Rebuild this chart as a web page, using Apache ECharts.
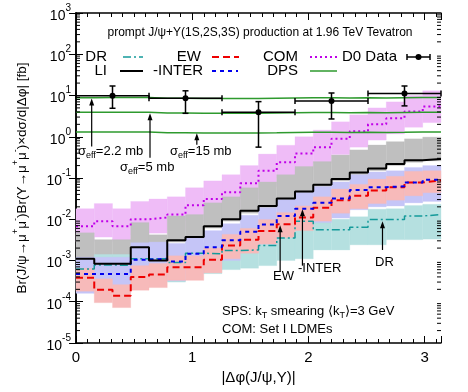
<!DOCTYPE html>
<html><head><meta charset="utf-8">
<script src="https://cdn.jsdelivr.net/npm/echarts@6/dist/echarts.min.js"></script>
<style>html,body{margin:0;padding:0;background:#fff}#c{width:468px;height:392px}</style>
</head><body><div id="c"></div>
<script>
const FONT = '"Liberation Sans", Arial, Helvetica, sans-serif';

// bin edges of |Δφ| (20 bins from 0 to π)
const binEdges = [0, 0.1571, 0.3142, 0.4712, 0.6283, 0.7854, 0.9425, 1.0996, 1.2566, 1.4137,
  1.5708, 1.7279, 1.8850, 2.0420, 2.1991, 2.3562, 2.5133, 2.6704, 2.8274, 2.9845, 3.1416];

// central values per bin [fb]
const LI    = [1.1e-3, 8.3e-4, 8.3e-4, 2.1e-3, 1.0e-3, 3.1e-3, 3.7e-3, 6.8e-3, 1.0e-2, 1.6e-2,
  2.1e-2, 3.2e-2, 4.7e-2, 6.9e-2, 9.4e-2, 0.135, 0.17, 0.22, 0.27, 0.29];
const COM   = [6.8e-3, 8.9e-3, 6.8e-3, 1.0e-2, 1.1e-2, 1.3e-2, 2.2e-2, 3.1e-2, 4.5e-2, 7.5e-2,
  0.15, 0.24, 0.39, 0.56, 0.9, 1.35, 2.0, 2.8, 4.1, 5.4];
const INTER = [4.7e-4, 4.7e-4, 4.7e-4, 1.05e-3, 1.1e-3, 9.5e-4, 1.45e-3, 2.1e-3, 3.1e-3, 5.0e-3,
  7.5e-3, 1.2e-2, 1.8e-2, 2.5e-2, 3.2e-2, 5.1e-2, 6.0e-2, 6.3e-2, 7.8e-2, 9.1e-2];
const EW    = [3.8e-4, 1.95e-4, 1.4e-4, 4.0e-4, 4.6e-4, 6.9e-4, 6.9e-4, 1.05e-3, 2.3e-3, 3.2e-3,
  5.2e-3, 7.6e-3, 1.1e-2, 1.9e-2, 2.9e-2, 3.7e-2, 5.0e-2, 6.0e-2, 7.8e-2, 8.7e-2];
const DR    = [6.2e-4, 7.8e-4, 7.6e-4, 1.1e-3, 1.1e-3, 8.9e-4, 1.5e-3, 1.45e-3, 1.75e-3, 1.8e-3,
  2.3e-3, 3.5e-3, 8.9e-3, 5.6e-3, 5.6e-3, 6.4e-3, 9.8e-3, 9.9e-3, 1.2e-2, 1.3e-2];
const DPS_2p2 = [8.8, 8.9, 8.9, 8.9, 8.6, 8.6, 8.5, 8.4, 8.5, 8.5, 8.6, 8.7, 8.8, 8.8, 8.7, 8.8, 8.7, 8.8, 8.9, 8.9];
const DPS_5   = [3.9, 3.9, 3.9, 3.9, 3.75, 3.75, 3.7, 3.7, 3.7, 3.7, 3.75, 3.8, 3.85, 3.85, 3.8, 3.85, 3.8, 3.85, 3.9, 3.9];
const DPS_15  = [1.3, 1.3, 1.3, 1.3, 1.25, 1.25, 1.24, 1.23, 1.24, 1.24, 1.25, 1.27, 1.28, 1.28, 1.27, 1.28, 1.27, 1.28, 1.3, 1.3];

// uncertainty bands per bin (low, high)
const COM_lo = [2.8e-3, 3.7e-3, 2.8e-3, 4.2e-3, 4.6e-3, 5.4e-3, 9.2e-3, 1.3e-2, 1.9e-2, 3.1e-2,
  6.2e-2, 0.1, 0.16, 0.23, 0.37, 0.56, 0.83, 1.17, 1.7, 2.2];
const COM_hi = [0.018, 0.024, 0.018, 0.027, 0.031, 0.035, 0.058, 0.085, 0.12, 0.2,
  0.38, 0.62, 1.0, 1.45, 2.3, 3.4, 5.0, 7.0, 10, 13];
const LI_lo = [1.0e-3, 7.5e-4, 7.5e-4, 1.9e-3, 9e-4, 2.8e-3, 3.3e-3, 6.1e-3, 9e-3, 1.4e-2,
  1.9e-2, 2.9e-2, 4.2e-2, 6.2e-2, 8.5e-2, 0.12, 0.15, 0.2, 0.24, 0.26];
const LI_hi = [4.7e-3, 3.2e-3, 3.2e-3, 8.3e-3, 4.2e-3, 1.2e-2, 1.3e-2, 2.5e-2, 3.5e-2, 5.8e-2,
  8.0e-2, 0.12, 0.19, 0.25, 0.36, 0.48, 0.63, 0.76, 0.89, 0.98];
const INTER_lo = [1.6e-4, 1.6e-4, 1.6e-4, 3.5e-4, 3.7e-4, 3.2e-4, 4.8e-4, 7e-4, 1.0e-3, 1.7e-3,
  2.5e-3, 4.0e-3, 6.0e-3, 8.3e-3, 1.07e-2, 1.7e-2, 2.0e-2, 2.1e-2, 2.5e-2, 2.7e-2];
const INTER_hi = [1.2e-3, 1.2e-3, 1.2e-3, 2.7e-3, 2.8e-3, 2.6e-3, 3.7e-3, 5.3e-3, 7.8e-3, 1.25e-2,
  1.9e-2, 3.0e-2, 4.5e-2, 6.2e-2, 8.0e-2, 0.12, 0.14, 0.15, 0.18, 0.2];
const EW_lo = [1.8e-4, 9.5e-5, 7.2e-5, 1.9e-4, 2.2e-4, 3.3e-4, 3.3e-4, 5.0e-4, 1.1e-3, 1.5e-3,
  2.5e-3, 3.6e-3, 5.3e-3, 9.0e-3, 1.4e-2, 1.8e-2, 2.4e-2, 2.9e-2, 3.7e-2, 4.4e-2];
const EW_hi = [6.5e-4, 3.6e-4, 2.6e-4, 7.5e-4, 8.5e-4, 1.3e-3, 1.3e-3, 2.0e-3, 4.3e-3, 6.0e-3,
  9.8e-3, 1.45e-2, 2.1e-2, 3.5e-2, 5.4e-2, 7.0e-2, 9.4e-2, 0.11, 0.145, 0.15];
const DR_lo = [2.0e-4, 2.6e-4, 2.5e-4, 3.7e-4, 3.7e-4, 3.0e-4, 5.0e-4, 4.8e-4, 6e-4, 6.5e-4,
  7.5e-4, 1.0e-3, 1.1e-3, 1.8e-3, 1.8e-3, 2.4e-3, 2.4e-3, 3.2e-3, 3.2e-3, 3.3e-3];
const DR_hi = [1.1e-3, 1.4e-3, 1.4e-3, 2.0e-3, 2.0e-3, 1.6e-3, 2.7e-3, 2.6e-3, 3.2e-3, 3.3e-3,
  4.2e-3, 6.3e-3, 1.4e-2, 1.0e-2, 1.0e-2, 1.15e-2, 1.75e-2, 1.8e-2, 2.15e-2, 2.3e-2];

// D0 data
const d0X     = [0.3142, 0.9425, 1.5708, 2.1991, 2.8274];
const d0HalfW = [0.3142, 0.3142, 0.3142, 0.3142, 0.3142];
const d0Y     = [9.8, 8.6, 3.9, 7.4, 11.2];
const d0Lo    = [4.9, 3.7, 0.56, 2.7, 5.6];
const d0Hi    = [17, 13, 7.1, 11.5, 17];

// annotation arrows: x, tail y, head y
const arrowX    = [0.135, 0.637, 1.04, 1.757, 1.949, 2.638];
const arrowFrom = [0.58, 0.31, 0.64, 5.5e-4, 7.5e-4, 1.8e-3];
const arrowTo   = [8.4, 3.7, 1.22, 7.2e-3, 1.75e-2, 9.0e-3];

const stepData = v => { const d = v.map((y, i) => [binEdges[i], y]); d.push([binEdges[v.length], v[v.length - 1]]); return d; };
const bandData = (lo, hi) => lo.map((l, i) => [binEdges[i], binEdges[i + 1], l, hi[i]]);

function bandSeries(lo, hi, color, z) {
  return {
    type: 'custom', z: z, silent: true, data: bandData(lo, hi),
    encode: { x: [0, 1], y: [2, 3] },
    renderItem: (p, api) => {
      const a = api.coord([api.value(0), api.value(3)]);
      const b = api.coord([api.value(1), api.value(2)]);
      return { type: 'rect', shape: { x: a[0], y: a[1], width: b[0] - a[0], height: b[1] - a[1] },
        style: { fill: color, stroke: color, lineWidth: 0.3 } };
    }
  };
}
function lineSeries(vals, color, width, type, z) {
  return { type: 'line', step: 'end', data: stepData(vals), symbol: 'none', z: z || 5, silent: true,
    lineStyle: { color: color, width: width, type: type || 'solid' } };
}

const minorY = [];
for (let e = -5; e < 3; e++) for (let k = 2; k <= 9; k++) minorY.push([0, k * Math.pow(10, e)]);

const C = { DR: '#159a9a', EW: '#ee0000', COM: '#c000e8', INTER: '#0000ee', DPS: '#2e9a2e', LI: '#000000' };

const chart = echarts.init(document.getElementById('c'), null, { renderer: 'canvas' });

const axisCommonX = {
  type: 'value', min: 0, max: Math.PI, interval: 1,
  axisLine: { lineStyle: { color: '#000', width: 1.5 } },
  axisTick: { inside: true, length: 7, lineStyle: { color: '#000', width: 1 } },
  minorTick: { show: true, splitNumber: 10, length: 4, lineStyle: { color: '#000', width: 1 } },
  splitLine: { show: false }
};
const axisCommonY = {
  type: 'log', logBase: 10, min: 1e-5, max: 1e3, splitNumber: 8,
  axisLine: { show: true, lineStyle: { color: '#000', width: 1.5 } },
  axisTick: { show: true, inside: true, length: 7, lineStyle: { color: '#000', width: 1 } },
  splitLine: { show: false }
};

const option = {
  animation: false,
  backgroundColor: '#fff',
  grid: { left: 76, top: 13, right: 27, bottom: 49 },
  xAxis: [
    Object.assign({}, axisCommonX, {
      position: 'bottom',
      axisLabel: { fontFamily: FONT, fontSize: 15, color: '#000', margin: 7,
        formatter: v => (Math.abs(v - Math.round(v)) < 1e-6 ? String(Math.round(v)) : '') },
      name: '|Δφ(J/ψ,Υ)|', nameLocation: 'middle', nameGap: 26,
      nameTextStyle: { fontFamily: FONT, fontSize: 15, color: '#000' }
    }),
    Object.assign({}, axisCommonX, { position: 'top', axisLabel: { show: false } })
  ],
  yAxis: [
    Object.assign({}, axisCommonY, {
      position: 'left',
      axisLabel: { margin: 5, color: '#000',
        formatter: v => '{b|10}{s|' + Math.round(Math.log10(v)) + '}',
        rich: { b: { fontFamily: FONT, fontSize: 14, color: '#000', verticalAlign: 'bottom', lineHeight: 20 },
                s: { fontFamily: FONT, fontSize: 10, color: '#000', verticalAlign: 'top' } } },
      name: '{a|Br(J/ψ→μ}{s|+}{a|μ}{s|-}{a|)Br(Υ→μ}{s|+}{a|μ}{s|-}{a|)×dσ/d|Δφ| [fb]}',
      nameLocation: 'middle', nameGap: 47,
      nameTextStyle: { rich: {
        a: { fontFamily: FONT, fontSize: 13.5, color: '#000', verticalAlign: 'bottom', lineHeight: 18 },
        s: { fontFamily: FONT, fontSize: 9, color: '#000', verticalAlign: 'top' } } }
    }),
    Object.assign({}, axisCommonY, { position: 'right', axisLabel: { show: false } })
  ],
  series: [
    bandSeries(COM_lo, COM_hi, '#efbcf7', 1),
    bandSeries(LI_lo, LI_hi, '#bfbfbf', 2),
    bandSeries(DR_lo, DR_hi, '#b5e0e0', 3),
    bandSeries(INTER_lo, INTER_hi, '#c5c5f7', 4),
    bandSeries(EW_lo, EW_hi, '#f7baba', 5),
    lineSeries(DR, C.DR, 1.5, [8, 3, 2, 3], 10),
    lineSeries(EW, C.EW, 2, [7, 4], 11),
    lineSeries(INTER, C.INTER, 2, [4, 4], 12),
    lineSeries(COM, C.COM, 2, [2, 3], 13),
    lineSeries(LI, C.LI, 2, 'solid', 14),
    lineSeries(DPS_2p2, C.DPS, 1.5, 'solid', 15),
    lineSeries(DPS_5, C.DPS, 1.5, 'solid', 15),
    lineSeries(DPS_15, C.DPS, 1.5, 'solid', 15),
    { // D0 data with error bars
      type: 'custom', z: 20, silent: true,
      data: d0X.map((x, i) => [x, d0Y[i], d0Lo[i], d0Hi[i], d0HalfW[i]]),
      encode: { x: 0, y: 1 },
      renderItem: (p, api) => {
        const x = api.value(0), y = api.value(1), lo = api.value(2), hi = api.value(3), hw = api.value(4);
        const c = api.coord([x, y]), l = api.coord([x - hw, y]), r = api.coord([x + hw, y]);
        const t = api.coord([x, hi]), b = api.coord([x, lo]);
        const st = { stroke: '#000', lineWidth: 1.5 };
        const ln = (x1, y1, x2, y2) => ({ type: 'line', shape: { x1, y1, x2, y2 }, style: st });
        return { type: 'group', children: [
          ln(l[0], l[1], r[0], r[1]),
          ln(l[0], l[1] - 3, l[0], l[1] + 3), ln(r[0], r[1] - 3, r[0], r[1] + 3),
          ln(t[0], t[1], b[0], b[1]),
          ln(t[0] - 3, t[1], t[0] + 3, t[1]), ln(b[0] - 3, b[1], b[0] + 3, b[1]),
          { type: 'circle', shape: { cx: c[0], cy: c[1], r: 3 }, style: { fill: '#000' } }
        ] };
      }
    },
    { // annotation arrows
      type: 'custom', z: 21, silent: true,
      data: arrowX.map((x, i) => [x, arrowFrom[i], arrowTo[i]]),
      encode: { x: 0, y: [1, 2] },
      renderItem: (p, api) => {
        const a = api.coord([api.value(0), api.value(1)]);
        const b = api.coord([api.value(0), api.value(2)]);
        return { type: 'group', children: [
          { type: 'line', shape: { x1: a[0], y1: a[1], x2: b[0], y2: b[1] + 4 }, style: { stroke: '#000', lineWidth: 1.2 } },
          { type: 'polygon', shape: { points: [[b[0], b[1]], [b[0] - 2.5, b[1] + 7], [b[0] + 2.5, b[1] + 7]] }, style: { fill: '#000' } }
        ] };
      }
    },
    { // log minor ticks on left and right frame
      type: 'custom', z: 22, silent: true, data: minorY, encode: { x: 0, y: 1 },
      renderItem: (p, api) => {
        const v = api.value(1);
        const L = api.coord([0, v]), R = api.coord([Math.PI, v]);
        return { type: 'group', children: [
          { type: 'line', shape: { x1: L[0], y1: L[1], x2: L[0] + 4, y2: L[1] }, style: { stroke: '#000', lineWidth: 1 } },
          { type: 'line', shape: { x1: R[0] - 4, y1: R[1], x2: R[0], y2: R[1] }, style: { stroke: '#000', lineWidth: 1 } }
        ] };
      }
    }
  ]
};
chart.setOption(option);

// legend and text annotations
const T = (x, y, text, size, align) => ({ type: 'text', x: x, y: y, z: 100,
  style: { text: text, font: size + 'px ' + FONT, fill: '#000', align: align || 'left', verticalAlign: 'middle' } });
const RT = (x, y, text, size) => ({ type: 'text', x: x, y: y, z: 100,
  style: { text: text, align: 'left', verticalAlign: 'middle',
    rich: { a: { fontFamily: FONT, fontSize: size, fill: '#000', color: '#000', verticalAlign: 'middle', lineHeight: size + 6 },
            s: { fontFamily: FONT, fontSize: size - 4, fill: '#000', color: '#000', verticalAlign: 'bottom' } } } });
const L = (x1, x2, y, color, width, dash) => ({ type: 'line', z: 100,
  shape: { x1: x1, y1: y, x2: x2, y2: y }, style: { stroke: color, lineWidth: width, lineDash: dash || null } });

const r1 = 57, r2 = 71;
const gfx = [
  T(260, 33, 'prompt J/ψ+Υ(1S,2S,3S) production at 1.96 TeV Tevatron', 12, 'center'),
  T(107, r1, 'DR', 15, 'right'), L(123, 143, r1, C.DR, 1.5, [8, 3, 2, 3]),
  T(201, r1, 'EW', 15, 'right'), L(212, 239, r1, C.EW, 2, [7, 4]),
  T(298, r1, 'COM', 15, 'right'), L(310, 337, r1, C.COM, 2, [2, 3]),
  T(397, r1, 'D0 Data', 15, 'right'),
  L(407, 430, r1, '#000', 1.5), L(407, 407, r1, '#000', 1.5),
  { type: 'line', z: 100, shape: { x1: 407, y1: r1 - 3, x2: 407, y2: r1 + 3 }, style: { stroke: '#000', lineWidth: 1.5 } },
  { type: 'line', z: 100, shape: { x1: 430, y1: r1 - 3, x2: 430, y2: r1 + 3 }, style: { stroke: '#000', lineWidth: 1.5 } },
  { type: 'circle', z: 100, shape: { cx: 418.5, cy: r1, r: 3 }, style: { fill: '#000' } },
  T(107, r2, 'LI', 15, 'right'), L(120, 143, r2, C.LI, 2),
  T(203, r2, '-INTER', 15, 'right'), L(212, 238, r2, C.INTER, 2, [4, 4]),
  T(298, r2, 'DPS', 15, 'right'), L(310, 337, r2, C.DPS, 1.5),
  RT(78, 151, '{a|σ}{s|eff}{a|=2.2 mb}', 13),
  RT(120, 167, '{a|σ}{s|eff}{a|=5 mb}', 13),
  RT(170, 151, '{a|σ}{s|eff}{a|=15 mb}', 13),
  T(273, 276, 'EW', 13), T(298, 268, '-INTER', 13), T(375, 262, 'DR', 13),
  RT(222, 311, '{a|SPS: k}{s|T}{a| smearing ⟨k}{s|T}{a|⟩=3 GeV}', 13),
  T(222, 329, 'COM: Set I LDMEs', 13)
];
chart.setOption({ graphic: { elements: gfx } });
</script>
</body></html>
